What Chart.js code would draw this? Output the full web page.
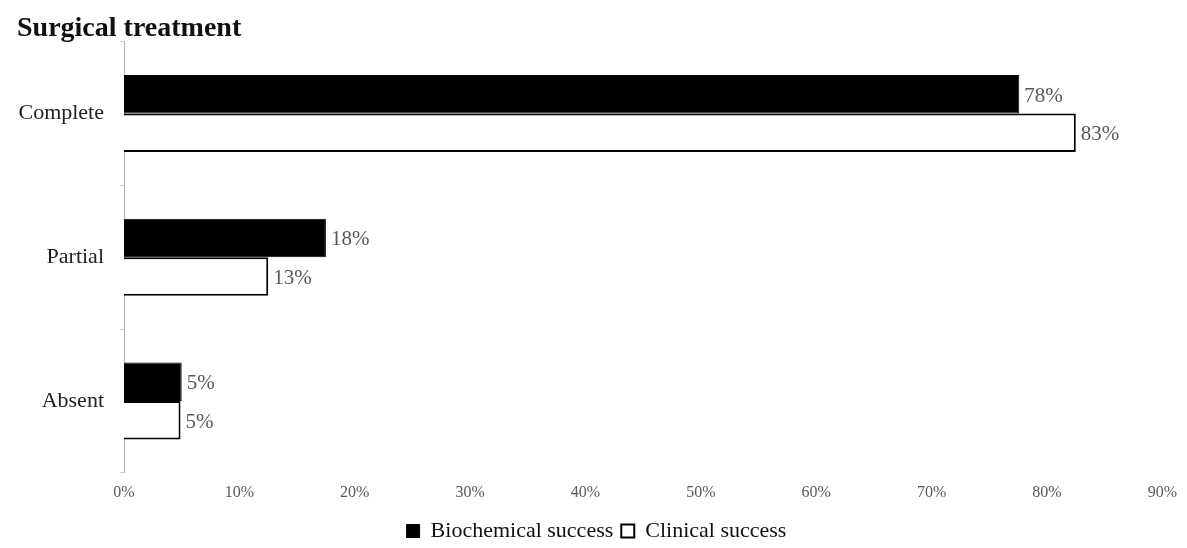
<!DOCTYPE html>
<html>
<head>
<meta charset="utf-8">
<script src="https://cdn.jsdelivr.net/npm/chart.js@4"></script>
<style>
  body { margin: 0; background: #fff; }
  #wrap { width: 1187px; height: 548px; position: relative; }
</style>
</head>
<body>
<div id="wrap"><canvas id="myChart"></canvas></div>
<script>
const categories = ["Complete", "Partial", "Absent"]
const biochemical = [77.6, 17.5, 5.0]
const clinical = [82.5, 12.5, 4.9]
const xTicks = [0, 10, 20, 30, 40, 50, 60, 70, 80, 90]

const serif = "'Liberation Serif', 'Times New Roman', serif"

// draws the % next to the end of each bar
const valueLabels = {
    id: 'valueLabels',
    afterDatasetsDraw(chart) {
        const ctx = chart.ctx
        ctx.save()
        ctx.font = "21px " + serif
        ctx.fillStyle = "#595959"
        ctx.textBaseline = "middle"
        chart.data.datasets.forEach((ds, i) => {
            chart.getDatasetMeta(i).data.forEach((bar, j) => {
                ctx.fillText(Math.round(ds.data[j]) + "%", bar.x + 5, bar.y + 2)
            })
        })
        ctx.restore()
    }
}

const ctx1 = document.getElementById("myChart").getContext('2d')

const myChart = new Chart(ctx1, {
    type: "bar",
    data: {
        labels: categories,
        datasets: [{
            label: "Biochemical success",
            data: biochemical,
            backgroundColor: "#000",
            borderColor: "#000",
            borderWidth: 1,
            categoryPercentage: 0.535,
            barPercentage: 1.0
        }, {
            label: "Clinical success",
            data: clinical,
            backgroundColor: "#fff",
            borderColor: "#000",
            borderWidth: 2,
            categoryPercentage: 0.535,
            barPercentage: 1.0
        }]
    },
    options: {
        indexAxis: 'y',
        responsive: true,
        maintainAspectRatio: false,
        animation: false,
        layout: { padding: { left: 17, right: 11, top: 0, bottom: -4 } },
        scales: {
            x: {
                min: 0,
                max: 90,
                afterBuildTicks: axis => { axis.ticks = xTicks.map(v => ({ value: v })) },
                grid: { display: false, drawTicks: false },
                border: { display: false },
                ticks: {
                    callback: v => v + "%",
                    color: "#595959",
                    font: { family: serif, size: 16 },
                    padding: 10,
                    maxRotation: 0
                }
            },
            y: {
                afterFit: axis => { axis.width = 107 },
                grid: { display: true, drawOnChartArea: false, tickLength: 4, color: "#cccccc" },
                border: { display: true, color: "#b5b5b5", dash: [3, 3], width: 1 },
                ticks: {
                    color: "#222",
                    font: { family: serif, size: 22 },
                    padding: 16
                }
            }
        },
        plugins: {
            title: {
                display: true,
                text: "Surgical treatment",
                align: "start",
                color: "#111",
                font: { family: serif, size: 28, weight: "bold" },
                padding: { top: 12, bottom: -4 }
            },
            legend: {
                position: "bottom",
                labels: {
                    color: "#111",
                    font: { family: serif, size: 22 },
                    boxWidth: 13,
                    boxHeight: 13,
                    padding: 8
                }
            },
            tooltip: { enabled: false }
        }
    },
    plugins: [valueLabels]
})
</script>
</body>
</html>
